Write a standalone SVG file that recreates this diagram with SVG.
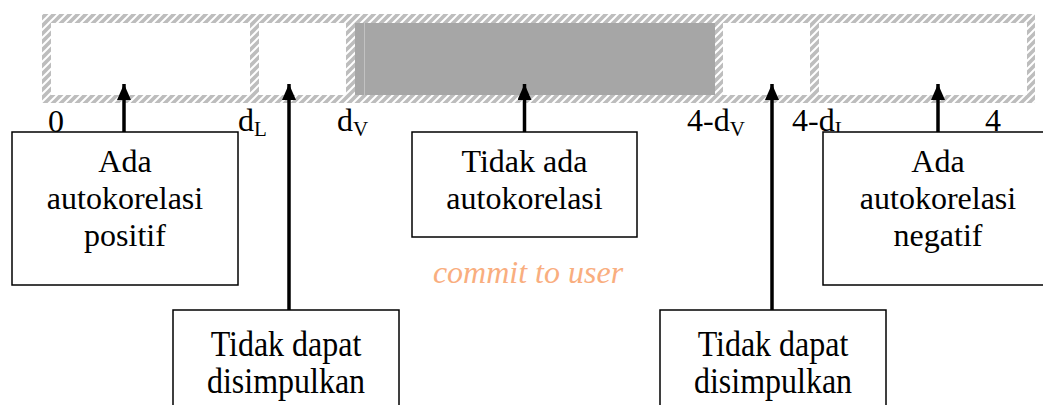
<svg xmlns="http://www.w3.org/2000/svg" width="1043" height="405" viewBox="0 0 1043 405">
  <style>
    .t { font-family: 'Liberation Serif', 'DejaVu Serif', serif; font-size: 32px; fill: #000; }
    .sub { font-size: 21px; }
    .box { fill: #fff; stroke: #000; stroke-width: 1.5; }
    .arrow { stroke: #000; stroke-width: 3.5; fill: none; marker-end: url(#head); }
    .cell { fill: #fff; }
    .wm { font-family: 'Liberation Serif', 'DejaVu Serif', serif; font-size: 32px; font-style: italic; fill: #F9AE7F; }
  </style>
  <defs>
    <pattern id="hatch" width="8" height="8" patternUnits="userSpaceOnUse">
      <rect width="8" height="8" fill="#bdbdbd"/>
      <path d="M-2,2 L2,-2 M0,8 L8,0 M6,10 L10,6" stroke="#fff" stroke-width="2"/>
    </pattern>
    <marker id="head" viewBox="0 0 16 14" refX="16" refY="7" markerWidth="16" markerHeight="14" markerUnits="userSpaceOnUse" orient="auto">
      <path d="M0,0 L16,7 L0,14 Z" fill="#000"/>
    </marker>
  </defs>

  <!-- Durbin-Watson scale bar -->
  <g id="scale-bar">
    <rect x="42" y="14" width="993" height="89" fill="url(#hatch)"/>
    <rect class="cell" x="51" y="23" width="199" height="72"/>
    <rect class="cell" x="259" y="23" width="87" height="72"/>
    <rect x="355" y="23" width="360" height="72" fill="#a6a6a6"/>
    <line x1="364.5" y1="23" x2="364.5" y2="95" stroke="#c2c2c2" stroke-width="1"/>
    <rect class="cell" x="723" y="23" width="87" height="72"/>
    <rect class="cell" x="819" y="23" width="208" height="72"/>
  </g>

  <!-- boundary labels -->
  <g id="labels">
    <text class="t" x="48" y="132">0</text>
    <text class="t" x="238" y="131">d<tspan class="sub" dy="5">L</tspan></text>
    <text class="t" x="337" y="131">d<tspan class="sub" dy="5">V</tspan></text>
    <text class="t" x="687" y="131">4-d<tspan class="sub" dy="5">V</tspan></text>
    <text class="t" x="792" y="131">4-d<tspan class="sub" dy="5">L</tspan></text>
    <text class="t" x="985" y="131">4</text>
  </g>

  <!-- connectors -->
  <g id="connectors">
    <line class="arrow" x1="124" y1="132" x2="124" y2="84"/>
    <line class="arrow" x1="289" y1="310" x2="289" y2="84"/>
    <line class="arrow" x1="524.5" y1="132" x2="524.5" y2="84"/>
    <line class="arrow" x1="772" y1="310" x2="772" y2="84"/>
    <line class="arrow" x1="938" y1="132" x2="938" y2="84"/>
  </g>

  <g id="node-positif">
    <rect class="box" x="12" y="132" width="226" height="153"/>
    <text class="t" text-anchor="middle" x="125" y="172">Ada</text>
    <text class="t" text-anchor="middle" x="125" y="209">autokorelasi</text>
    <text class="t" text-anchor="middle" x="125" y="246">positif</text>
  </g>

  <g id="node-tidak-ada">
    <rect class="box" x="412" y="132" width="225" height="105"/>
    <text class="t" text-anchor="middle" x="524.5" y="172">Tidak ada</text>
    <text class="t" text-anchor="middle" x="524.5" y="209">autokorelasi</text>
  </g>

  <g id="node-negatif">
    <rect class="box" x="823" y="132" width="230" height="153"/>
    <text class="t" text-anchor="middle" x="938" y="172">Ada</text>
    <text class="t" text-anchor="middle" x="938" y="209">autokorelasi</text>
    <text class="t" text-anchor="middle" x="938" y="246">negatif</text>
  </g>

  <!-- lower boxes: lettering is set slightly taller -->
  <g id="node-ragu-kiri">
    <rect class="box" x="173" y="310" width="226" height="110"/>
    <text class="t" text-anchor="middle" transform="translate(286,356) scale(1,1.15)">Tidak dapat</text>
    <text class="t" text-anchor="middle" transform="translate(286,393) scale(1,1.15)">disimpulkan</text>
  </g>

  <g id="node-ragu-kanan">
    <rect class="box" x="660" y="310" width="226" height="110"/>
    <text class="t" text-anchor="middle" transform="translate(773,356) scale(1,1.15)">Tidak dapat</text>
    <text class="t" text-anchor="middle" transform="translate(773,393) scale(1,1.15)">disimpulkan</text>
  </g>

  <text class="wm" text-anchor="middle" x="528" y="283">commit to user</text>
</svg>
